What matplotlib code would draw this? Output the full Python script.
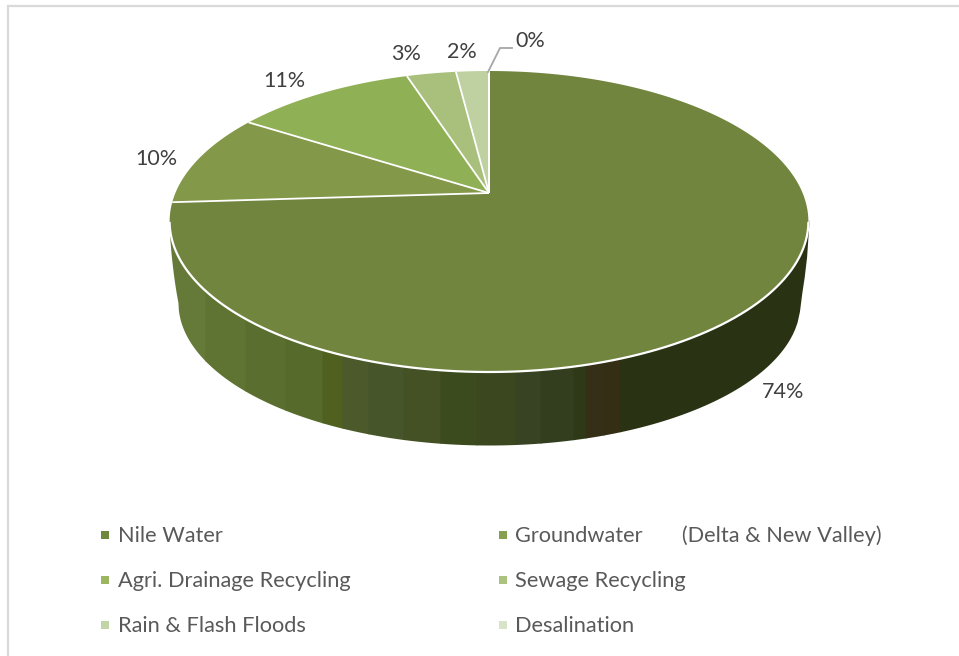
import numpy as np
import matplotlib
matplotlib.use("Agg")
import matplotlib.pyplot as plt
from matplotlib.patches import Polygon, Rectangle

# ---- data ----
categories = ["Nile Water", "Groundwater       (Delta & New Valley)", "Agri. Drainage Recycling",
              "Sewage Recycling", "Rain & Flash Floods", "Desalination"]
values = [74, 10, 11, 3, 2, 0]
labels = ["74%", "10%", "11%", "3%", "2%", "0%"]
slice_colors = ["#71853F", "#84984A", "#90B055", "#A9BF7C", "#BFD1A0", "#D6E0C5"]
legend_colors = ["#70883B", "#85A04F", "#9BB65F", "#ABC37F", "#C3D5A8", "#D8E3CA"]
side_edges = [169, 205, 245, 285, 322, 342, 368, 403, 440, 476, 515, 540, 573, 585, 603, 620, 810]
side_colors = ["#657A38", "#5F7333", "#5A6E2F", "#556A2B", "#50611F", "#4C5A2B", "#47552A", "#435124",
               "#3C4B1D", "#3B471E", "#384323", "#333E1F", "#2E3A17", "#352F18", "#332E14", "#293314"]
label_pos = [(783, 392), (156, 159), (284, 81), (406, 54), (462, 52), (530, 41)]

# ---- perspective of the pie (pixels) ----
CX, CY, A, B, K = 489, 193, 313.6, 145.1, 0.1894
EY, RY, RX = 221.5, 150.5, 320

def project(t):
    u, v = np.sin(t), np.cos(t)
    d = 1 + K * v
    return CX + A * u / d, CY + B * (-v) / d

plt.rcParams["font.family"] = ["Lato", "DejaVu Sans"]
fig = plt.figure(figsize=(9.59, 6.56), dpi=100)
ax = fig.add_axes([0, 0, 1, 1])
ax.set_xlim(0, 959)
ax.set_ylim(656, 0)
ax.axis("off")

# frame: only the left and top edges are inside the crop
ax.plot([8, 8, 959], [656, 6, 6], color="#D9D9D9", lw=1.6, zorder=0, solid_joinstyle="miter")

# side wall as vertical strips
S, DY = 0.972, 78

def top_front(x):
    return EY + RY * np.sqrt(np.clip(1 - ((x - CX) / RX) ** 2, 0, 1))

def bottom_front(x):
    xr = S * RX
    yc = EY + DY + 3
    ry = 445 - yc
    inside = np.abs(x - CX) <= xr
    edge = np.sqrt(np.clip(1 - ((x - CX) / xr) ** 2, 0, 1))
    out = top_front(x) + (yc - top_front(x)) * (RX - np.abs(x - CX)) / (RX - xr)
    return np.where(inside, yc + ry * edge, out)

for x0, x1, c in zip(side_edges[:-1], side_edges[1:], side_colors):
    xs = np.linspace(max(x0, CX - RX), min(x1 + 1.0, CX + RX), 80)
    ax.fill_between(xs, top_front(xs) - 2, bottom_front(xs), color=c, lw=0, zorder=1)

# top slices
total = sum(values)
start = 0.0
bounds = []
for v, c in zip(values, slice_colors):
    end = start + v / total * 2 * np.pi
    bounds.append(start)
    if v > 0:
        t = np.linspace(start, end, 200)
        px, py = project(t)
        pts = np.column_stack([np.r_[CX, px], np.r_[CY, py]])
        ax.add_patch(Polygon(pts, closed=True, fc=c, ec="none", zorder=2))
    start = end

# white separators and rim
for b in bounds:
    px, py = project(np.array([b]))
    ax.plot([CX, px[0]], [CY, py[0]], color="white", lw=1.3, zorder=3, solid_capstyle="butt")
t = np.linspace(np.pi / 2 + 0.2, 3 * np.pi / 2 - 0.2, 300)
px, py = project(t)
ax.plot(px, py, color="white", lw=1.6, zorder=3)

# data labels
for lab, (x, y) in zip(labels, label_pos):
    ax.text(x, y, lab, ha="center", va="center", fontsize=15.5, color="#404040", zorder=4)

# leader line of the 0% label
ax.plot([488, 500, 512], [72, 48, 48], color="#A6A6A6", lw=1.3, zorder=4)

# legend
leg_x = [101, 499]
leg_y = [535, 580, 625]
for i, (name, c) in enumerate(zip(categories, legend_colors)):
    col, row = i % 2, i // 2
    ax.add_patch(Rectangle((leg_x[col], leg_y[row] - 4), 8, 8, fc=c, ec="none", zorder=4))
    ax.text(leg_x[col] + (17 if col == 0 else 16), leg_y[row] + 1, name, ha="left", va="center", fontsize=15.7,
            color="#595959", zorder=4)

fig.savefig("out.png", dpi=100)
